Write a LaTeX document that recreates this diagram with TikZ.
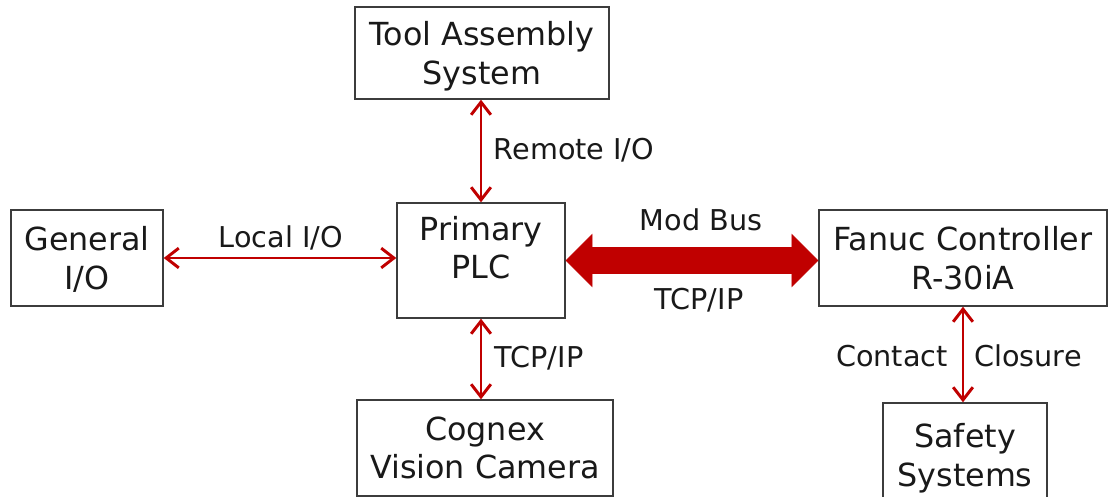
\documentclass[tikz,border=0pt]{standalone}
\usepackage{fontspec}
\setmainfont{DejaVu Sans}
\usepackage{tikz}
\usetikzlibrary{arrows.meta,positioning}
\usepackage{xcolor}
\definecolor{LinkRed}{RGB}{192, 0, 0}
\definecolor{BoxGray}{RGB}{60, 60, 60}
\definecolor{InkBlack}{RGB}{25, 25, 25}

\begin{document}
\begin{tikzpicture}[x=0.025cm, y=-0.025cm,
    every node/.style={align=center, text=InkBlack},
    unit/.style={draw=BoxGray, line width=1pt, fill=white, inner sep=0pt, text depth=0pt, font=\fontsize{22.6}{27.2}\selectfont},
    link/.style={draw=LinkRed, line width=2.1pt, {Straight Barb[length=9pt,width=14pt]}-{Straight Barb[length=9pt,width=14pt]}},
    bus/.style={draw=LinkRed, line width=19.2pt, {Triangle[length=19pt,width=38pt,line width=0.5pt]}-{Triangle[length=19pt,width=38pt,line width=0.5pt]}},
    tag/.style={font=\fontsize{20.4}{24}\selectfont, inner sep=0pt, anchor=base}]
  \useasboundingbox (0,0) rectangle (1108,497);
  % Units
  \node[unit, minimum width=6.35cm, minimum height=2.3cm] (tool) at (482,53) {Tool Assembly\\System};
  \node[unit, minimum width=4.2cm, minimum height=2.875cm, text depth=0.65cm] (plc) at (481,260.5) {Primary\\PLC};
  \node[unit, minimum width=3.8cm, minimum height=2.4cm] (gen) at (87,258) {General\\I/O};
  \node[unit, minimum width=7.2cm, minimum height=2.4cm] (fanuc) at (963,258) {Fanuc Controller\\R-30iA};
  \node[unit, minimum width=6.4cm, minimum height=2.4cm] (cog) at (485,448) {Cognex\\Vision Camera};
  \node[unit, minimum width=4.1cm, minimum height=2.6cm] (safe) at (965,455) {Safety\\Systems};
  % Links
  \draw[link] (plc.north |- tool.south) -- (plc.north);
  \draw[link] (gen.east) -- (gen.east -| plc.west);
  \draw[link] (plc.south) -- (plc.south |- cog.north);
  \draw[link] (fanuc.south) -- (fanuc.south |- safe.north);
  \draw[bus] (plc.east) -- (plc.east -| fanuc.west);
  % Link labels
  \node[tag] (remote) at (574,160) {Remote I/O};
  \node[tag] (local) at (281,248) {Local I/O};
  \node[tag] (modbus) at (701,231) {Mod Bus};
  \node[tag] (tcpbus) at (699,310) {TCP/IP};
  \node[tag] (tcpcam) at (539,367) {TCP/IP};
  \node[tag] (contact) at (892,366) {Contact};
  \node[tag] (closure) at (1028,366) {Closure};
\end{tikzpicture}
\end{document}
